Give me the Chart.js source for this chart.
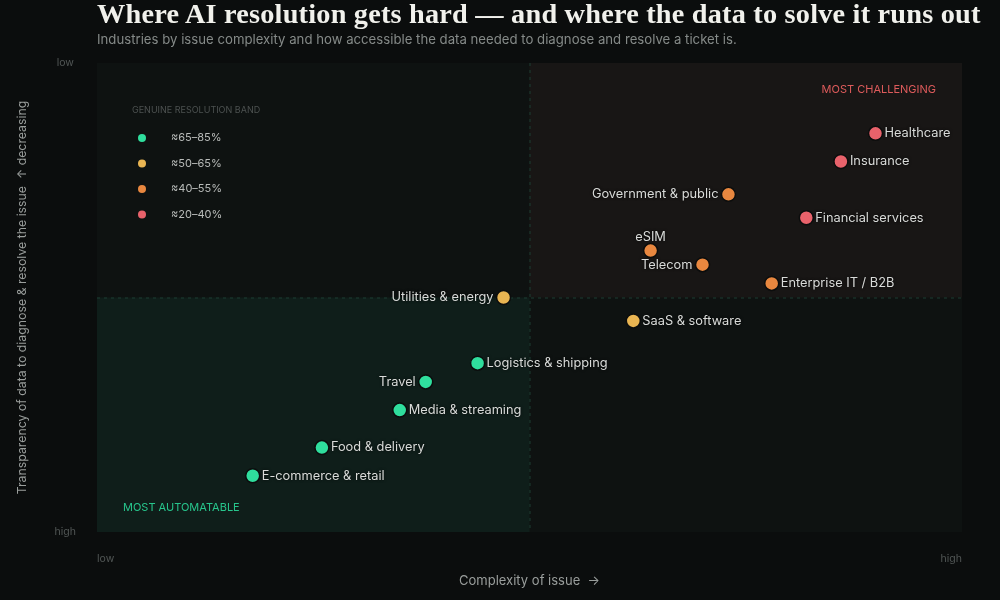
<!DOCTYPE html>
<html>
<head>
<meta charset="utf-8">
<script src="https://cdn.jsdelivr.net/npm/chart.js@4.4.1/dist/chart.umd.min.js"></script>
<style>
    html, body { margin: 0; padding: 0; background: #0b0d0d; }
    #wrap { position: relative; width: 1000px; height: 600px; overflow: hidden; }
    #title {
        position: absolute; left: 97px; top: -2px; margin: 0;
        font-family: "Liberation Serif", "DejaVu Serif", serif; font-weight: 700;
        font-size: 28.3px; color: #f1f1ec; white-space: nowrap; letter-spacing: 0.2px;
    }
    #subtitle {
        position: absolute; left: 97px; top: 31px; margin: 0;
        font-family: Inter, "Noto Sans", sans-serif; font-size: 13.2px; color: #858a88; white-space: nowrap;
    }
    canvas { position: absolute; left: 0; top: 0; }
</style>
</head>
<body>
<div id="wrap">
    <canvas id="chart" width="1000" height="600"></canvas>
    <h1 id="title">Where AI resolution gets hard — and where the data to solve it runs out</h1>
    <p id="subtitle">Industries by issue complexity and how accessible the data needed to diagnose and resolve a ticket is.</p>
</div>
<script>
// data
const industries = [
    'Healthcare', 'Insurance', 'Government & public', 'Financial services', 'eSIM', 'Telecom',
    'Enterprise IT / B2B', 'Utilities & energy', 'SaaS & software', 'Logistics & shipping',
    'Travel', 'Media & streaming', 'Food & delivery', 'E-commerce & retail'
];
const complexity = [9.0, 8.6, 7.3, 8.2, 6.4, 7.0, 7.8, 4.7, 6.2, 4.4, 3.8, 3.5, 2.6, 1.8];
const opacity = [8.5, 7.9, 7.2, 6.7, 6.0, 5.7, 5.3, 5.0, 4.5, 3.6, 3.2, 2.6, 1.8, 1.2];
const bandOf = [3, 3, 2, 3, 2, 2, 2, 1, 1, 0, 0, 0, 0, 0];
const bandLabels = ['≈65–85%', '≈50–65%', '≈40–55%', '≈20–40%'];
const xTickLabels = ['low', 'high'];
const yTickLabels = ['high', 'low'];

const bandColors = ['#2fde9d', '#e9b552', '#e8873f', '#e8626b'];
// which side of the point the name goes on
const labelSide = {
    'Government & public': 'left', 'Telecom': 'left', 'Utilities & energy': 'left',
    'Travel': 'left', 'eSIM': 'top'
};

const sans = 'Inter, "Noto Sans", sans-serif';

const quadrantPlugin = {
    id: 'quadrants',
    beforeDatasetsDraw(chart) {
        const { ctx, chartArea: a, scales: { x, y } } = chart;
        const mx = x.getPixelForValue(5);
        const my = y.getPixelForValue(5);
        ctx.save();
        ctx.fillStyle = '#0e1211';
        ctx.fillRect(a.left, a.top, a.right - a.left, a.bottom - a.top);
        ctx.fillStyle = '#181615';
        ctx.fillRect(mx, a.top, a.right - mx, my - a.top);
        ctx.fillStyle = '#0f1e1a';
        ctx.fillRect(a.left, my, mx - a.left, a.bottom - my);

        ctx.strokeStyle = '#1d3d32';
        ctx.lineWidth = 1;
        ctx.setLineDash([3, 4]);
        ctx.beginPath();
        ctx.moveTo(mx + 0.5, a.top);
        ctx.lineTo(mx + 0.5, a.bottom);
        ctx.moveTo(a.left, my + 0.5);
        ctx.lineTo(a.right, my + 0.5);
        ctx.stroke();
        ctx.setLineDash([]);

        ctx.font = '11px ' + sans;
        ctx.textBaseline = 'middle';
        ctx.fillStyle = '#dd5b5b';
        ctx.textAlign = 'right';
        ctx.fillText('MOST CHALLENGING', a.right - 26, a.top + 27);
        ctx.fillStyle = '#27c58c';
        ctx.textAlign = 'left';
        ctx.fillText('MOST AUTOMATABLE', a.left + 26, a.bottom - 24);

        // legend
        ctx.font = '9px ' + sans;
        ctx.fillStyle = '#4c5150';
        ctx.fillText('GENUINE RESOLUTION BAND', a.left + 35, a.top + 47);
        ctx.font = '11px ' + sans;
        bandLabels.forEach(function (lbl, i) {
            const cy = a.top + 75 + i * 25.5;
            ctx.fillStyle = bandColors[i];
            ctx.beginPath();
            ctx.arc(a.left + 45, cy, 4, 0, Math.PI * 2);
            ctx.fill();
            ctx.fillStyle = '#b9bcba';
            ctx.fillText(lbl, a.left + 74, cy);
        });
        ctx.restore();
    }
};

const labelPlugin = {
    id: 'pointLabels',
    afterDatasetsDraw(chart) {
        const { ctx } = chart;
        const meta = chart.getDatasetMeta(0);
        ctx.save();
        ctx.font = '12.8px ' + sans;
        ctx.fillStyle = '#d9dbd9';
        ctx.shadowColor = 'rgba(0,0,0,0.8)';
        ctx.shadowBlur = 3;
        meta.data.forEach(function (pt, i) {
            const name = industries[i];
            const side = labelSide[name] || 'right';
            if (side === 'left') {
                ctx.textAlign = 'right';
                ctx.textBaseline = 'middle';
                ctx.fillText(name, pt.x - 10, pt.y);
            } else if (side === 'top') {
                ctx.textAlign = 'center';
                ctx.textBaseline = 'bottom';
                ctx.fillText(name, pt.x, pt.y - 7);
            } else {
                ctx.textAlign = 'left';
                ctx.textBaseline = 'middle';
                ctx.fillText(name, pt.x + 9, pt.y);
            }
        });
        ctx.restore();
    }
};

const pointColors = bandOf.map(function (b) { return bandColors[b]; });

new Chart(document.getElementById('chart'), {
    type: 'scatter',
    data: {
        datasets: [{
            data: complexity.map(function (c, i) { return { x: c, y: opacity[i] }; }),
            backgroundColor: pointColors,
            borderColor: '#0b0d0d',
            borderWidth: 1.5,
            pointRadius: 7,
            pointHoverRadius: 7
        }]
    },
    options: {
        responsive: false,
        animation: false,
        layout: { padding: { top: 63, right: 38, left: 0, bottom: 0 } },
        plugins: { legend: { display: false }, tooltip: { enabled: false } },
        scales: {
            x: {
                min: 0, max: 10,
                afterFit: function (s) { s.height = 68; },
                afterBuildTicks: function (s) { s.ticks = [{ value: 0 }, { value: 10 }]; },
                grid: { display: false },
                border: { display: false },
                ticks: {
                    align: 'inner', padding: 13, maxRotation: 0,
                    color: '#525756', font: { family: sans, size: 10.5 },
                    callback: function (v) { return v === 0 ? xTickLabels[0] : xTickLabels[1]; }
                },
                title: {
                    display: true, text: 'Complexity of issue  →',
                    color: '#9a9e9c', font: { family: sans, size: 13 },
                    padding: { top: 0, bottom: 11 }
                }
            },
            y: {
                min: 0, max: 10,
                afterFit: function (s) { s.width = 97; },
                afterBuildTicks: function (s) { s.ticks = [{ value: 0 }, { value: 10 }]; },
                grid: { display: false },
                border: { display: false },
                ticks: {
                    crossAlign: 'center', padding: 13,
                    color: '#525756', font: { family: sans, size: 10.5 },
                    callback: function (v) { return v === 0 ? yTickLabels[0] : yTickLabels[1]; }
                },
                title: {
                    display: true, text: 'Transparency of data to diagnose & resolve the issue  ↑ decreasing',
                    color: '#9a9e9c', font: { family: sans, size: 12.3 },
                    padding: { top: 15, bottom: 0 }
                }
            }
        }
    },
    plugins: [quadrantPlugin, labelPlugin]
});
</script>
</body>
</html>
